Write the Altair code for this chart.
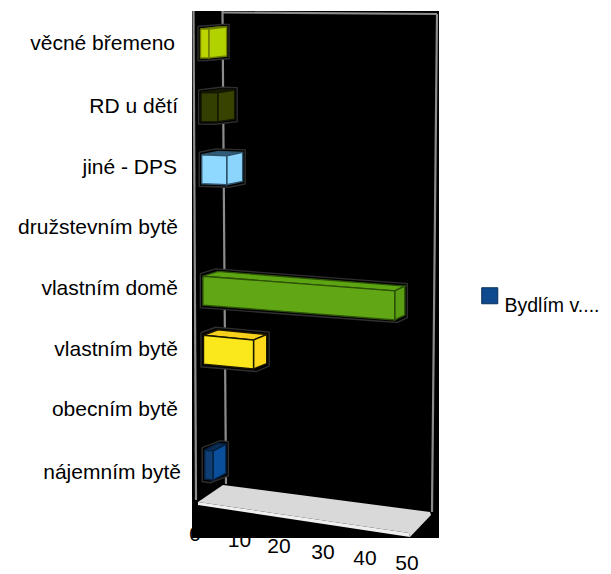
import altair as alt
import pandas as pd

categories = ["věcné břemeno", "RD u dětí", "jiné - DPS", "družstevním bytě",
              "vlastním domě", "vlastním bytě", "obecním bytě", "nájemním bytě"]
values = [2, 4, 6, 0, 46, 12, 0, 2]
front_colors = ["#bcd400", "#333f00", "#8fd8ff", "#000000", "#60a615", "#fbe81c", "#000000", "#0f3f72"]
side_colors = ["#b2d200", "#384300", "#8bd4fb", "#000000", "#5a9e14", "#ffd91c", "#000000", "#0a4f9b"]
top_colors = ["#9db400", "#1c2200", "#2f5f80", "#000000", "#5ca412", "#f6d01b", "#000000", "#0a2c55"]
edge_colors = ["#6f7f00", "#141800", "#2f5268", "#000000", "#2d5208", "#1a1600", "#000000", "#062040"]
label_right = [175, 178, 177, 178, 178, 178, 178, 181]
label_y = [44, 107, 168, 228, 289, 350, 410, 473]
tick_values = [0, 10, 20, 30, 40, 50]
tick_y = [535, 541, 547, 553, 558.5, 564]
series_name = "Bydlím v...."


def project(i, v, t, d):
    """Perspective of the 3D box: value v, bar index i, t 0 top / 1 bottom, d depth 0..1."""
    x = 200.5 + 0.6 * i + 4.17 * v + d * (18 - 0.11 * v - 0.7 * i)
    y = 43.5 + 64 * i - 0.55 * i * i + (t - 0.5) * 29 + 0.08 * i * v - d * (2 + 0.7 * i)
    return x, y


rows = []
pid = [0]


def poly(points, fill, stroke):
    pid[0] += 1
    closed = list(points) + [points[0]]
    for k, (x, y) in enumerate(closed):
        rows.append(dict(p=pid[0], k=k, x=x, y=y, fill=fill, stroke=stroke))


def grow(points, by):
    cx = sum(p[0] for p in points) / len(points)
    cy = sum(p[1] for p in points) / len(points)
    return [(x + by * (1 if x > cx else -1), y + by * (1 if y > cy else -1)) for x, y in points]


for i, v in enumerate(values):
    if v <= 0:
        continue
    hull = [project(i, 0, 0, 0), project(i, 0, 0, 1), project(i, v, 0, 1),
            project(i, v, 1, 1), project(i, v, 1, 0), project(i, 0, 1, 0)]
    poly(grow(hull, 2.5), "#000000", "#2e2e2e")
    poly([project(i, 0, 0, 0), project(i, v, 0, 0), project(i, v, 0, 1), project(i, 0, 0, 1)],
         top_colors[i], edge_colors[i])
    poly([project(i, v, 0, 0), project(i, v, 0, 1), project(i, v, 1, 1), project(i, v, 1, 0)],
         side_colors[i], edge_colors[i])
    poly([project(i, 0, 0, 0), project(i, v, 0, 0), project(i, v, 1, 0), project(i, 0, 1, 0)],
         front_colors[i], edge_colors[i])
bars = pd.DataFrame(rows)

floor_rows = []
floor_faces = [
    ([(223, 485), (430, 512), (431, 515), (410, 537), (409, 533), (198, 502)], "#d9d9d9"),
    ([(198, 502), (409, 533), (410, 537), (198, 505)], "#efefef"),
]
for n, (pts, col) in enumerate(floor_faces):
    for k, (x, y) in enumerate(pts + [pts[0]]):
        floor_rows.append(dict(p=n, k=k, x=x, y=y, fill=col))
floor = pd.DataFrame(floor_rows)

walls = pd.DataFrame([
    dict(x=193.5, y=11, x2=196, y2=500),
    dict(x=222.5, y=11, x2=226, y2=484),
    dict(x=222.5, y=12.5, x2=437, y2=14),
    dict(x=437, y=14, x2=432, y2=512),
])

ticks = pd.DataFrame({
    "v": tick_values,
    "x": [195, 239.5, 279, 323, 365, 407],
    "y": tick_y,
})
ticks["t"] = ticks["v"].astype(str)
labels = pd.DataFrame({"t": categories, "x": label_right, "y": label_y})
panel = pd.DataFrame([dict(x=192, x2=439, y=11, y2=538)])

WIDTH = 595
HEIGHT = 566
X = alt.X("x:Q", scale=alt.Scale(domain=[8, 8 + WIDTH], range=[0, WIDTH]), axis=None)
Y = alt.Y("y:Q", scale=alt.Scale(domain=[8 + HEIGHT, 8], range=[HEIGHT, 0]), axis=None)
FONT = "Liberation Sans"

tick_layer = alt.Chart(ticks).mark_text(font=FONT, fontSize=21, color="#000000", align="center",
                                        baseline="middle").encode(X, Y, text="t:N")
bg_layer = alt.Chart(panel).mark_rect(color="#000000").encode(X, Y, x2="x2:Q", y2="y2:Q")
wall_layer = alt.Chart(walls).mark_rule(color="#8c8c8c", strokeWidth=2.2).encode(X, Y, x2="x2:Q", y2="y2:Q")
floor_layer = alt.Chart(floor).mark_line(filled=True, strokeWidth=0, interpolate="linear").encode(
    X, Y, order="k:Q", detail="p:N", fill=alt.Fill("fill:N", scale=None, legend=None))
bar_layer = alt.Chart(bars).mark_line(filled=True, strokeWidth=1.4, interpolate="linear").encode(
    X, Y, order="k:Q", detail="p:N",
    fill=alt.Fill("fill:N", scale=None, legend=None),
    stroke=alt.Stroke("stroke:N", scale=None, legend=None))
label_layer = alt.Chart(labels).mark_text(font=FONT, fontSize=21, color="#000000", align="right",
                                          baseline="middle").encode(X, Y, text="t:N")

legend_data = pd.DataFrame([dict(x=-100, y=-100, s=series_name)])
legend_layer = alt.Chart(legend_data).mark_square(size=0, opacity=1).encode(
    X, Y,
    color=alt.Color("s:N", scale=alt.Scale(domain=[series_name], range=["#0f4a8f"]),
                    legend=alt.Legend(orient="none", legendX=472, legendY=278, title=None,
                                      symbolType="square", symbolSize=256, symbolStrokeColor="#0a2c55",
                                      symbolStrokeWidth=1, symbolOpacity=1, labelFont=FONT, labelFontSize=19.5,
                                      labelBaseline="line-top", labelColor="#000000", padding=0, labelOffset=5)),
)

chart = alt.layer(tick_layer, bg_layer, wall_layer, floor_layer, bar_layer, label_layer, legend_layer).properties(
    width=WIDTH, height=HEIGHT, padding=0, autosize=alt.AutoSizeParams(type="none"),
).configure_view(stroke=None)

chart.save("out.html", embed_options={"renderer": "svg", "actions": False})
